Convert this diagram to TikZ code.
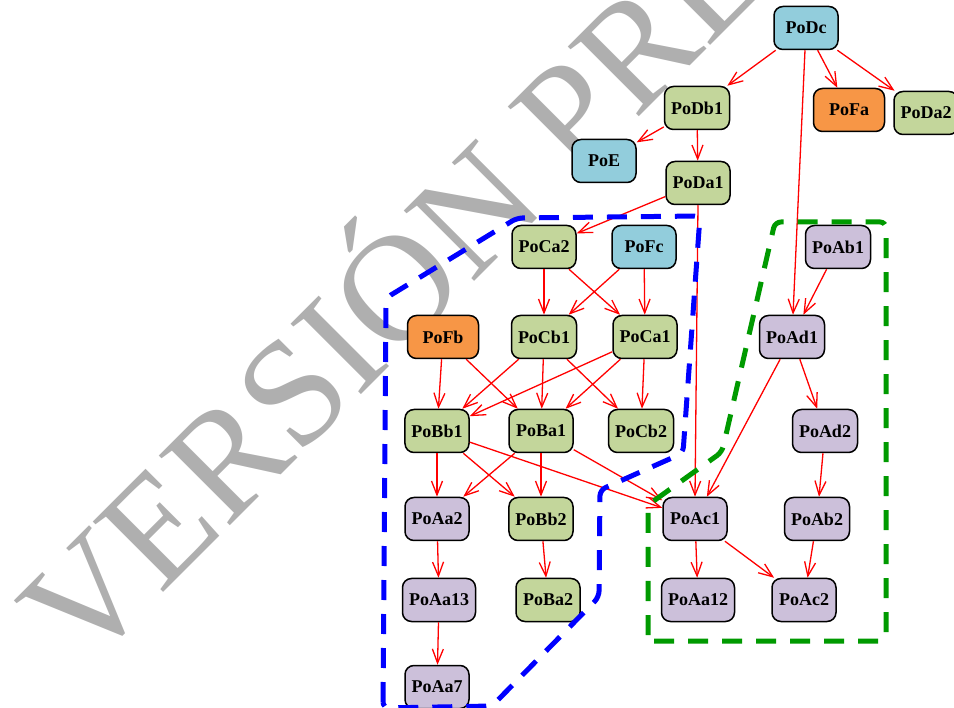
\documentclass[tikz,border=0pt]{standalone}
\usepackage{fontspec}
\setmainfont{Liberation Serif}
\usetikzlibrary{arrows.meta}

\definecolor{poGreen}{HTML}{C3D69B}
\definecolor{poBlue}{HTML}{92CDDC}
\definecolor{poOrange}{HTML}{F79646}
\definecolor{poLilac}{HTML}{CCC0DA}
\definecolor{zoneGreen}{HTML}{009A00}
\definecolor{markGray}{HTML}{AFAFAF}

\begin{document}
\begin{tikzpicture}[x=1pt,y=-1pt,
    po/.style={draw=black, line width=1.5pt, rounded corners=9pt,
      minimum width=64pt, minimum height=43pt, inner xsep=6.5pt,
      font=\fontsize{18}{20}\selectfont\bfseries},
    pogreen/.style={po, fill=poGreen},
    poblue/.style={po, fill=poBlue},
    poorange/.style={po, fill=poOrange, minimum width=71pt},
    polilac/.style={po, fill=poLilac},
    dep/.style={draw=red, line width=1.3pt, -{Straight Barb[length=14pt,width=11pt]}},
    zone/.style={line width=5pt, dash pattern=on 20pt off 14pt, rounded corners=6pt}]
    \useasboundingbox (0,0) rectangle (954,708);

    % watermark
    \node[rotate=45, anchor=base, text=markGray, inner sep=0pt,
      font=\fontsize{152}{152}\selectfont] (mark) at (428,328) {VERSIÓN PRE};

    % D and E level
    \node[poblue] (PoDc) at (806,28) {PoDc};
    \node[pogreen] (PoDb1) at (697,108) {PoDb1};
    \node[poorange] (PoFa) at (849,110) {PoFa};
    \node[pogreen] (PoDa2) at (926,113) {PoDa2};
    \node[poblue] (PoE) at (604,161) {PoE};
    \node[pogreen] (PoDa1) at (698,183) {PoDa1};

    % C level
    \node[pogreen] (PoCa2) at (544,247) {PoCa2};
    \node[poblue] (PoFc) at (644,247) {PoFc};
    \node[poorange] (PoFb) at (443,337) {PoFb};
    \node[pogreen] (PoCb1) at (544,337) {PoCb1};
    \node[pogreen] (PoCa1) at (645,337) {PoCa1};

    % B level
    \node[pogreen] (PoBb1) at (437,431) {PoBb1};
    \node[pogreen] (PoBa1) at (541,431) {PoBa1};
    \node[pogreen] (PoCb2) at (641,431) {PoCb2};
    \node[pogreen] (PoBb2) at (541,519) {PoBb2};
    \node[pogreen] (PoBa2) at (548,600) {PoBa2};

    % A level
    \node[polilac] (PoAa2) at (437,519) {PoAa2};
    \node[polilac] (PoAa13) at (439,600) {PoAa13};
    \node[polilac] (PoAa7) at (437,687) {PoAa7};
    \node[polilac] (PoAb1) at (838,247) {PoAb1};
    \node[polilac] (PoAd1) at (792,337) {PoAd1};
    \node[polilac] (PoAd2) at (825,431) {PoAd2};
    \node[polilac] (PoAc1) at (695,519) {PoAc1};
    \node[polilac] (PoAb2) at (817,519) {PoAb2};
    \node[polilac] (PoAa12) at (698,600) {PoAa12};
    \node[polilac] (PoAc2) at (804,600) {PoAc2};

    % dependencies
    \draw[dep] (PoDc) -- (PoDb1);
    \draw[dep] (PoDc) -- (PoFa);
    \draw[dep] (PoDc) -- (PoDa2);
    \draw[dep] (PoDc) -- (PoAd1);
    \draw[dep] (PoDb1) -- (PoE);
    \draw[dep] (PoDb1) -- (PoDa1);
    \draw[dep] (PoDa1) -- (PoCa2);
    \draw[dep] (PoDa1.south) -- (PoAc1.north);
    \draw[dep] (PoCa2) -- (PoCb1);
    \draw[dep] (PoCa2) -- (PoCa1);
    \draw[dep] (PoFc) -- (PoCb1);
    \draw[dep] (PoFc) -- (PoCa1);
    \draw[dep] (PoFb) -- (PoBb1);
    \draw[dep] (PoFb) -- (PoBa1);
    \draw[dep] (PoCb1) -- (PoBb1);
    \draw[dep] (PoCb1) -- (PoBa1);
    \draw[dep] (PoCb1) -- (PoCb2);
    \draw[dep] (PoCa1) -- (PoBb1);
    \draw[dep] (PoCa1) -- (PoBa1);
    \draw[dep] (PoCa1) -- (PoCb2);
    \draw[dep] (PoBb1) -- (PoAa2);
    \draw[dep] (PoBb1) -- (PoBb2);
    \draw[dep] (PoBb1) -- (PoAc1);
    \draw[dep] (PoBa1) -- (PoAa2);
    \draw[dep] (PoBa1) -- (PoBb2);
    \draw[dep] (PoBa1) -- (PoAc1);
    \draw[dep] (PoAa2) -- (PoAa13);
    \draw[dep] (PoAa13) -- (PoAa7);
    \draw[dep] (PoBb2) -- (PoBa2);
    \draw[dep] (PoAb1) -- (PoAd1);
    \draw[dep] (PoAd1) -- (PoAd2);
    \draw[dep] (PoAd1) -- (PoAc1);
    \draw[dep] (PoAd2) -- (PoAb2);
    \draw[dep] (PoAb2) -- (PoAc2);
    \draw[dep] (PoAc1) -- (PoAa12);
    \draw[dep] (PoAc1) -- (PoAc2);

    % zones
    \draw[zone, draw=blue] (383,708) -- (386,298) -- (517,218) -- (700,216) -- (683,453)
      -- (600,490) -- (599,597) -- (492,706) -- cycle;
    \draw[zone, draw=zoneGreen] (648,641) -- (648,505) -- (722,452) -- (775,222)
      -- (886,222) -- (886,641) -- cycle;
\end{tikzpicture}
\end{document}
